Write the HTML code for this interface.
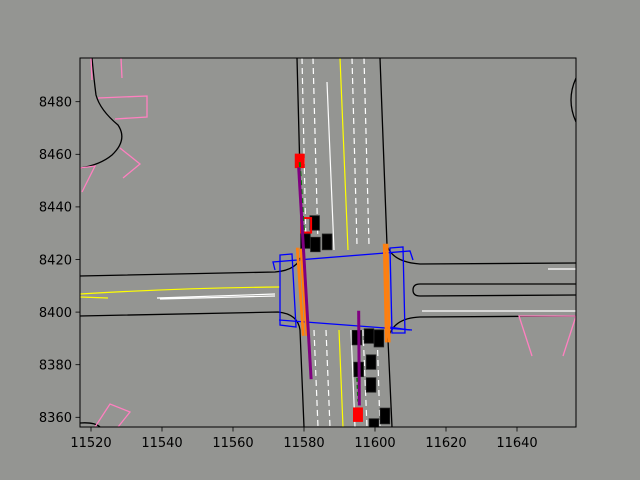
<!DOCTYPE html>
<html><head><meta charset="utf-8"><style>
html,body{margin:0;padding:0;background:#949592;}
svg{display:block;font-family:"DejaVu Sans","Liberation Sans",sans-serif;}
</style></head><body>
<svg id="chart" width="640" height="480" viewBox="0 0 640 480">
<rect x="0" y="0" width="640" height="480" fill="#949592"/>
<defs><clipPath id="clip"><rect x="80" y="58" width="496" height="369"/></clipPath></defs>
<g clip-path="url(#clip)">
<rect x="80" y="58" width="496" height="369" fill="#949592"/>
<g fill="none" stroke="#000" stroke-width="1.3">
<path d="M297,58 L302,252 Q300,270 275,272 L80,276"/>
<path d="M80,316 L278,312 Q298,314 300,330 L304,427"/>
<path d="M380,58 L387,245 Q392,262 420,264 L576,263"/>
<path d="M576,284 L420,284 Q413,284 413,290 Q413,296 420,296 L576,295"/>
<path d="M576,316 L420,317 Q392,318 388,340 L392,427"/>
<path d="M576,78 Q566,100 576,122"/>
<path d="M92,58 Q94,80 96,95 Q100,110 118,125 Q128,140 112,155 Q100,165 80,168"/>
<path d="M80,423 Q95,422 100,427"/>
</g>
<g fill="none" stroke="#fff" stroke-width="1.2">
<path d="M302,58 L306,245 M313,58 L318,245 M352,58 L357,245 M364,58 L369,245" stroke-dasharray="6,4"/>
<path d="M314,330 L318,427 M326,330 L330,427 M363,330 L367,427 M377,330 L380,427" stroke-dasharray="6,4"/>
<path d="M327,82 L334,250 M351,330 L355,427"/>
<path d="M157,298 L275,294 M160,299 L275,296 M422,311 L576,311 M548,269 L576,269"/>
</g>
<g fill="none" stroke="#ffff00" stroke-width="1.2">
<path d="M340,58 L348,250 M339,330 L343,427"/>
<path d="M80,294 Q180,288 280,287 M80,297 L108,298"/>
</g>
<g fill="none" stroke="#ff80c0" stroke-width="1.3">
<path d="M91,58 L92,80 M121,58 L122,78"/>
<path d="M98,98 L147,96 L147,117 L115,119"/>
<path d="M120,148 L140,164 L123,178 M80,168 L95,166 L82,192"/>
<path d="M95,427 L110,404 L130,412 L118,427"/>
<path d="M532,356 L519,316 L576,316 L563,356"/>
</g>
<g fill="none" stroke="#0000ff" stroke-width="1.3">
<path d="M275,270 L273,262 L410,251 L413,260"/>
<path d="M280,255 L292,254 L296,327 L280,325 Z"/>
<path d="M279,320 L412,330"/>
<path d="M390,248 L403,247 L405,333 L392,333 Z"/>
<path d="M389,327 L410,330"/>
</g>
<g id="marks"></g>
</g>
<rect x="80" y="58" width="496" height="369" fill="none" stroke="#000" stroke-width="1"/>
<g id="axes"></g>
</svg>
<script>
const xTicks = [11520, 11540, 11560, 11580, 11600, 11620, 11640];
const yTicks = [8360, 8380, 8400, 8420, 8440, 8460, 8480];
const carX = [11583.0, 11580.4, 11583.2, 11586.5, 11594.9, 11598.3, 11601.1, 11595.4, 11598.9, 11598.9, 11602.8, 11599.7];
const carY = [8433.9, 8427.0, 8425.7, 8426.7, 8390.3, 8390.9, 8390.0, 8378.2, 8381.0, 8372.3, 8360.5, 8356.7];
const carLen = [5.5, 5.5, 5.5, 6.0, 5.5, 5.5, 6.5, 5.5, 5.5, 5.5, 6.0, 5.5];
const egoX = [11578.8, 11580.6, 11595.2];
const egoY = [8457.5, 8433.0, 8361.0];
const trajAx = [11578.5, 11582.0];
const trajAy = [8455.0, 8374.5];
const trajBx = [11595.4, 11595.6];
const trajBy = [8400.5, 8364.5];
const stopAx = [11578.6, 11580.3];
const stopAy = [8424.5, 8391.0];
const stopBx = [11603.0, 11603.6];
const stopBy = [8426.0, 8388.5];

const NS='http://www.w3.org/2000/svg';
function X(v){return 91+(v-11520)*3.55;}
function Y(v){return 101.7-(v-8480)*2.63;}
const marks=document.getElementById('marks');
const axes=document.getElementById('axes');
function mk(tag,attrs,parent){const e=document.createElementNS(NS,tag);for(const k in attrs)e.setAttribute(k,attrs[k]);parent.appendChild(e);return e;}

function seg(xs,ys,color,w,name,dash){
  const l=mk('line',{x1:X(xs[0]),y1:Y(ys[0]),x2:X(xs[1]),y2:Y(ys[1]),stroke:color,'stroke-width':w},marks);
  if(dash)l.setAttribute('stroke-dasharray',dash);
  
  
}
// stop bars (orange)
seg([stopAx[0]-0.5,stopAx[1]-0.5],stopAy,'#ff7f0e',2.8,'stop-bar-left-a');
seg([stopAx[0]+0.5,stopAx[1]+0.5],stopAy,'#ff7f0e',2.8,'stop-bar-left-b');
seg([stopBx[0]-0.4,stopBx[1]-0.4],stopBy,'#ff7f0e',2.8,'stop-bar-right-a');
seg([stopBx[0]+0.4,stopBx[1]+0.4],stopBy,'#ff7f0e',2.8,'stop-bar-right-b');
// cars
for(let i=0;i<carX.length;i++){
  const w=2.7*3.55,h=carLen[i]*2.63;
  const r=mk('rect',{x:X(carX[i])-w/2,y:Y(carY[i])-h/2,width:w,height:h,fill:'#000',stroke:'#222','stroke-width':0.8},marks);
  
  
}
// ego vehicles (red)
for(let i=0;i<egoX.length;i++){
  const w=2.8*3.55,h=5.5*2.63;
  const r=mk('rect',{x:X(egoX[i])-w/2,y:Y(egoY[i])-h/2,width:w,height:h,fill:i===1?'none':'#ff0000',stroke:'#ff0000','stroke-width':i===1?2:0},marks);
  
  
}
// green dashed paths
seg([11578.8,11580.0],[8457,8430],'#008000',2,'green-path-a','5,4');
seg([11595.0,11595.3],[8375,8366],'#008000',2,'green-path-b','4,3');
// purple trajectories
seg(trajAx,trajAy,'#800080',3,'trajectory-a');
seg(trajBx,trajBy,'#800080',3,'trajectory-b');

// ticks and labels
xTicks.forEach(t=>{
  const x=X(t);
  const l=mk('line',{x1:x,y1:427,x2:x,y2:431.5,stroke:'#000','stroke-width':0.8},axes);
  
  
  const tx=mk('text',{x:x,y:447,'text-anchor':'middle','font-size':'13',fill:'#000'},axes);
  tx.textContent=t;
  
  
});
yTicks.forEach(t=>{
  const y=Y(t);
  const l=mk('line',{x1:75.5,y1:y,x2:80,y2:y,stroke:'#000','stroke-width':0.8},axes);
  
  
  const tx=mk('text',{x:72,y:y+4.8,'text-anchor':'end','font-size':'13',fill:'#000'},axes);
  tx.textContent=t;
  
  
});
</script>
</body></html>
